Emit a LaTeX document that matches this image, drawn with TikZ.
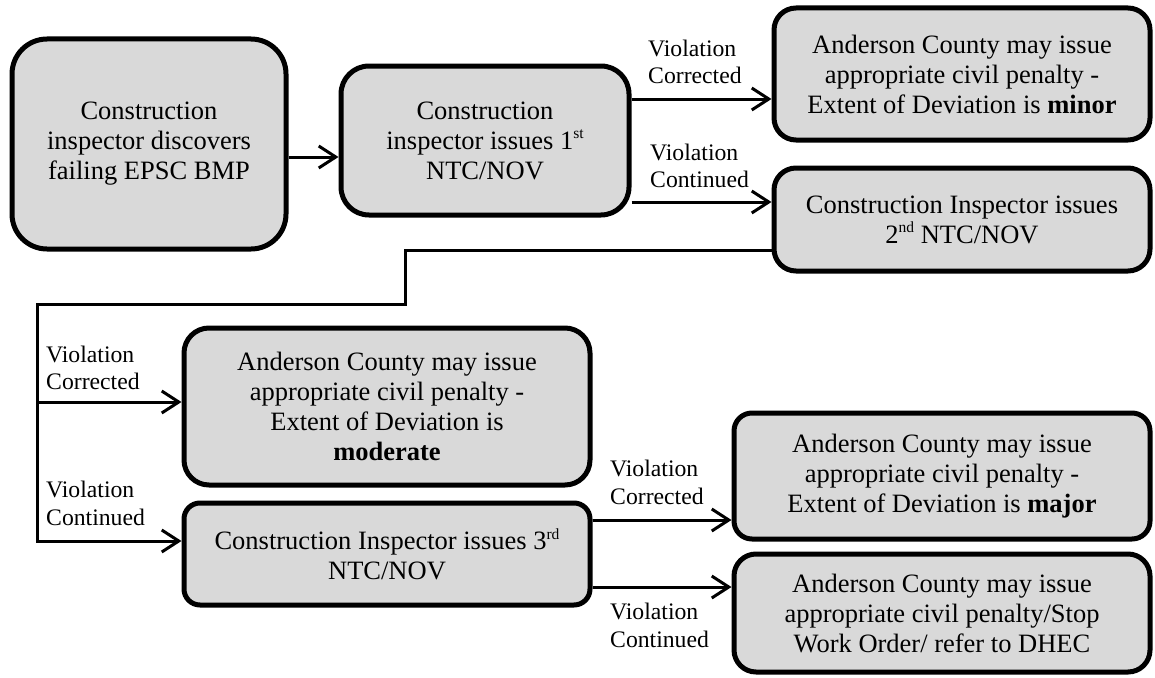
\documentclass[tikz,border=0pt]{standalone}
\usepackage{fontspec}
\setmainfont{Liberation Serif}
\usetikzlibrary{arrows.meta}
\definecolor{boxgray}{HTML}{D9D9D9}
\newcommand\myboxfont{\fontsize{26.5}{30}\selectfont}
\newcommand\mylblfont{\fontsize{23.7}{27.5}\selectfont}
\newcommand\mysup[1]{\raisebox{0.85ex}{\fontsize{15.5}{15.5}\selectfont #1}}
\tikzset{
  box/.style={draw=black, line width=5pt, fill=boxgray, rounded corners=22pt,
    align=center, inner sep=0pt, font=\myboxfont},
  lbl/.style={anchor=west, align=left, inner sep=0pt, font=\mylblfont},
  conn/.style={line width=3pt},
  arr/.style={conn, -{Straight Barb[length=17pt,width=22pt]}},
}
\begin{document}
\begin{tikzpicture}[x=1pt,y=-1pt]
\useasboundingbox (0,0) rectangle (1155,677);

\node[box, minimum width=274pt, minimum height=210pt, rounded corners=35pt] (A) at (149,144)
  {Construction\\inspector discovers\\failing EPSC BMP};
\node[box, minimum width=288pt, minimum height=149pt, rounded corners=28pt] (B) at (485,140.5)
  {Construction\\inspector issues 1\mysup{st}\\NTC/NOV};
\node[box, minimum width=376pt, minimum height=132pt] (C) at (962,74)
  {Anderson County may issue\\appropriate civil penalty -\\Extent of Deviation is \textbf{minor}};
\node[box, minimum width=376pt, minimum height=103pt] (D) at (962,219.5)
  {Construction Inspector issues\\2\mysup{nd} NTC/NOV};
\node[box, minimum width=406pt, minimum height=157pt, rounded corners=25pt] (E) at (387,406.5)
  {Anderson County may issue\\appropriate civil penalty -\\Extent of Deviation is\\\textbf{moderate}};
\node[box, minimum width=406pt, minimum height=102pt, rounded corners=16pt] (F) at (387,554)
  {Construction Inspector issues 3\mysup{rd}\\NTC/NOV};
\node[box, minimum width=416pt, minimum height=126pt, rounded corners=18pt] (G) at (942,476)
  {Anderson County may issue\\appropriate civil penalty -\\Extent of Deviation is \textbf{major}};
\node[box, minimum width=416pt, minimum height=118pt] (H) at (942,613)
  {Anderson County may issue\\appropriate civil penalty/Stop\\Work Order/ refer to DHEC};

\coordinate (yab) at (0,157);
\coordinate (ybc) at (0,99);
\coordinate (ybd) at (0,202);
\coordinate (k1) at (405,250);
\coordinate (k2) at (405,304);
\coordinate (k3) at (37,304);
\coordinate (k4) at (37,541);
\coordinate (k5) at (37,402);
\coordinate (yfg) at (0,520);
\coordinate (yfh) at (0,587);

\draw[arr] (A.east |- yab) -- (B.west |- yab);
\draw[arr] (B.east |- ybc) -- (C.west |- ybc);
\draw[arr] (B.east |- ybd) -- (D.west |- ybd);
\draw[arr] (D.west |- k1) -- (k1) -- (k2) -- (k3) -- (k4) -- (F.west |- k4);
\draw[arr] (k5) -- (E.west |- k5);
\draw[arr] (F.east |- yfg) -- (G.west |- yfg);
\draw[arr] (F.east |- yfh) -- (H.west |- yfh);

\node[lbl] (l1) at (648,62) {Violation\\Corrected};
\node[lbl] (l2) at (650,166) {Violation\\Continued};
\node[lbl] (l3) at (46,368) {Violation\\Corrected};
\node[lbl] (l4) at (46,503.5) {Violation\\Continued};
\node[lbl] (l5) at (610,482.5) {Violation\\Corrected};
\node[lbl] (l6) at (610,625.5) {Violation\\Continued};
\end{tikzpicture}
\end{document}
